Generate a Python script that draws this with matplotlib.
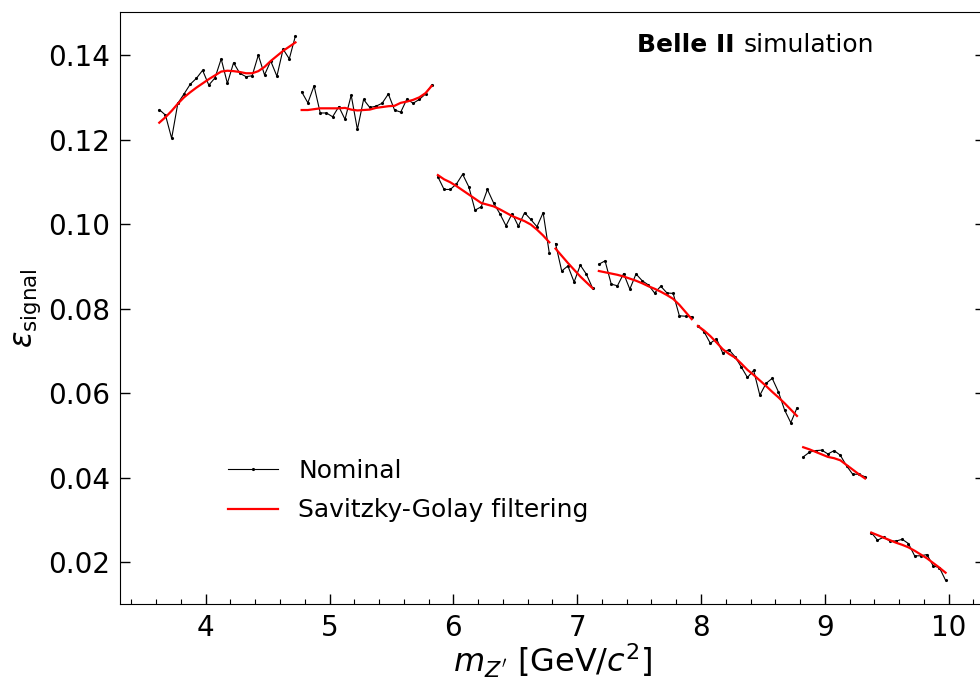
import matplotlib
matplotlib.use("Agg")
import matplotlib.pyplot as plt
from matplotlib.ticker import MultipleLocator

# mass points of each fit window (GeV/c^2), nominal efficiency and smoothed curve
x1 = [3.625, 3.675, 3.725, 3.775, 3.825, 3.875, 3.925, 3.975, 4.025, 4.075, 4.125, 4.175,
      4.225, 4.275, 4.325, 4.375, 4.425, 4.475, 4.525, 4.575, 4.625, 4.675, 4.725]
nom1 = [0.1271, 0.1258, 0.1203, 0.1286, 0.1308, 0.1331, 0.1345, 0.1364, 0.1329, 0.1346, 0.1391, 0.1333,
        0.1382, 0.1357, 0.1349, 0.1351, 0.1400, 0.1353, 0.1386, 0.1350, 0.1414, 0.1391, 0.1446]
sg1 = [0.1240, 0.1253, 0.1268, 0.1285, 0.1300, 0.1312, 0.1323, 0.1333, 0.1343, 0.1352, 0.1361, 0.1363,
       0.1362, 0.1360, 0.1357, 0.1357, 0.1362, 0.1372, 0.1386, 0.1398, 0.1410, 0.1420, 0.1430]

x2 = [4.775, 4.825, 4.875, 4.925, 4.975, 5.025, 5.075, 5.125, 5.175, 5.225, 5.275,
      5.325, 5.375, 5.425, 5.475, 5.525, 5.575, 5.625, 5.675, 5.725, 5.775, 5.825]
nom2 = [0.1313, 0.1287, 0.1327, 0.1263, 0.1263, 0.1254, 0.1278, 0.1248, 0.1305, 0.1224, 0.1295,
        0.1276, 0.1279, 0.1286, 0.1308, 0.1270, 0.1265, 0.1296, 0.1286, 0.1295, 0.1308, 0.1329]
sg2 = [0.1270, 0.1270, 0.1272, 0.1274, 0.1274, 0.1274, 0.1274, 0.1275, 0.1271, 0.1269, 0.1270,
       0.1271, 0.1275, 0.1277, 0.1279, 0.1280, 0.1287, 0.1290, 0.1294, 0.1300, 0.1310, 0.1327]

x3 = [5.875, 5.925, 5.975, 6.025, 6.075, 6.125, 6.175, 6.225, 6.275, 6.325,
      6.375, 6.425, 6.475, 6.525, 6.575, 6.625, 6.675, 6.725, 6.775]
nom3 = [0.1112, 0.1082, 0.1082, 0.1095, 0.1118, 0.1088, 0.1033, 0.1041, 0.1082, 0.1050,
        0.1025, 0.0996, 0.1025, 0.0995, 0.1027, 0.1011, 0.0994, 0.1027, 0.0931]
sg3 = [0.1116, 0.1106, 0.1099, 0.1090, 0.1080, 0.1070, 0.1060, 0.1050, 0.1046, 0.1042,
       0.1035, 0.1027, 0.1019, 0.1013, 0.1007, 0.0999, 0.0987, 0.0973, 0.0957]

x4 = [6.825, 6.875, 6.925, 6.975, 7.025, 7.075, 7.125]
nom4 = [0.0954, 0.0889, 0.0901, 0.0863, 0.0903, 0.0881, 0.0848]
sg4 = [0.0942, 0.0925, 0.0908, 0.0892, 0.0876, 0.0862, 0.0848]

x5 = [7.175, 7.225, 7.275, 7.325, 7.375, 7.425, 7.475, 7.525,
      7.575, 7.625, 7.675, 7.725, 7.775, 7.825, 7.875, 7.925]
nom5 = [0.0905, 0.0913, 0.0858, 0.0854, 0.0883, 0.0846, 0.0882, 0.0866,
        0.0856, 0.0837, 0.0853, 0.0837, 0.0836, 0.0783, 0.0782, 0.0781]
sg5 = [0.0889, 0.0886, 0.0883, 0.0880, 0.0876, 0.0871, 0.0866, 0.0860,
       0.0853, 0.0847, 0.0840, 0.0832, 0.0823, 0.0809, 0.0792, 0.0775]

x6 = [7.975, 8.025, 8.075, 8.125, 8.175, 8.225, 8.275, 8.325, 8.375,
      8.425, 8.475, 8.525, 8.575, 8.625, 8.675, 8.725, 8.775]
nom6 = [0.0759, 0.0745, 0.0718, 0.0729, 0.0695, 0.0703, 0.0686, 0.0662, 0.0637,
        0.0654, 0.0595, 0.0623, 0.0635, 0.0603, 0.0560, 0.0530, 0.0565]
sg6 = [0.0759, 0.0748, 0.0735, 0.0720, 0.0704, 0.0693, 0.0684, 0.0670, 0.0655,
       0.0643, 0.0630, 0.0617, 0.0603, 0.0590, 0.0576, 0.0561, 0.0546]

x7 = [8.825, 8.875, 8.925, 8.975, 9.025, 9.075, 9.125, 9.175, 9.225, 9.275, 9.325]
nom7 = [0.0449, 0.0460, 0.0464, 0.0465, 0.0456, 0.0464, 0.0453, 0.0428, 0.0408, 0.0408, 0.0402]
sg7 = [0.0472, 0.0467, 0.0461, 0.0455, 0.0449, 0.0446, 0.0441, 0.0430, 0.0419, 0.0408, 0.0398]

x8 = [9.375, 9.425, 9.475, 9.525, 9.575, 9.625, 9.675, 9.725, 9.775, 9.825, 9.875, 9.925, 9.975]
nom8 = [0.0270, 0.0252, 0.0259, 0.0250, 0.0250, 0.0254, 0.0244, 0.0215, 0.0215, 0.0218, 0.0191, 0.0187, 0.0157]
sg8 = [0.0270, 0.0264, 0.0258, 0.0252, 0.0246, 0.0241, 0.0235, 0.0227, 0.0218, 0.0209, 0.0198, 0.0187, 0.0175]

segments = [(x1, nom1, sg1), (x2, nom2, sg2), (x3, nom3, sg3), (x4, nom4, sg4),
            (x5, nom5, sg5), (x6, nom6, sg6), (x7, nom7, sg7), (x8, nom8, sg8)]

fig, ax = plt.subplots(figsize=(9.8, 6.81), dpi=100)
fig.subplots_adjust(left=0.1224, right=1.005, top=0.9824, bottom=0.1131)

for i, (xs, nom, sg) in enumerate(segments):
    ax.plot(xs, nom, color='black', lw=0.8, marker='.', ms=2.5,
            label='Nominal' if i == 0 else None)
    ax.plot(xs, sg, color='red', lw=1.6,
            label='Savitzky-Golay filtering' if i == 0 else None)

ax.set_xlim(3.3075, 10.2925)
ax.set_ylim(0.0101, 0.1502)
ax.xaxis.set_major_locator(MultipleLocator(1))
ax.xaxis.set_minor_locator(MultipleLocator(0.2))
ax.yaxis.set_major_locator(MultipleLocator(0.02))
ax.yaxis.set_major_formatter(plt.FormatStrFormatter('%.2f'))

ax.tick_params(which='both', direction='in', right=True, labelsize=20)
ax.tick_params(axis='x', which='major', length=7, width=1, pad=7)
ax.tick_params(axis='y', which='major', length=7, width=1, pad=7)
ax.tick_params(which='minor', length=3.5, width=0.8)

ax.set_xlabel(r"$m_{Z'}$ [GeV/$c^2$]", fontsize=23, labelpad=0)
ax.set_ylabel(r"$\varepsilon_{\mathrm{signal}}$", fontsize=22)

# "Belle II" bold, "simulation" regular
ax.text(0.711, 0.944, "Belle II", transform=ax.transAxes, ha='right', va='center',
        fontsize=18, fontweight='bold')
ax.text(0.8717, 0.944, "simulation", transform=ax.transAxes, ha='right', va='center',
        fontsize=18)

ax.legend(loc='lower left', bbox_to_anchor=(0.099, 0.10), frameon=False, fontsize=18,
          labelspacing=0.62)

fig.savefig('out.png', dpi=100)
